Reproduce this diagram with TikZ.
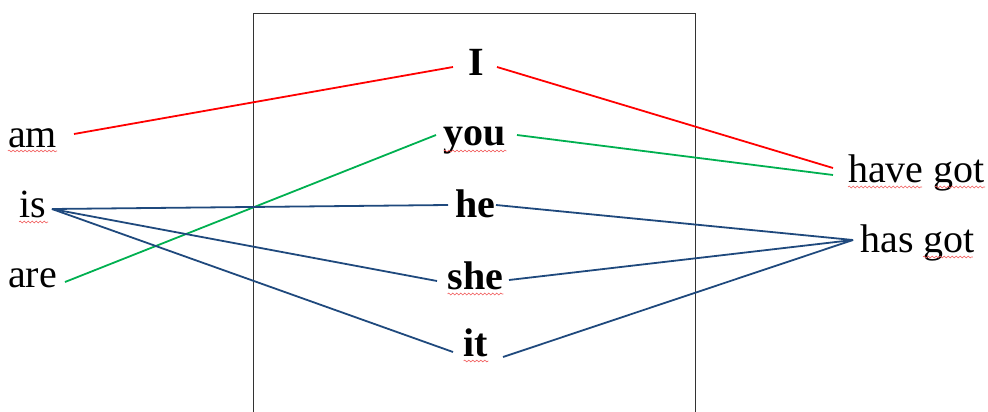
\documentclass[tikz,border=0pt]{standalone}
\usepackage{fontspec}
\setmainfont{Liberation Serif}
\usetikzlibrary{calc,decorations.pathmorphing}
\definecolor{lred}{RGB}{255,0,0}
\definecolor{lgreen}{RGB}{0,176,80}
\definecolor{lblue}{RGB}{31,73,125}
\definecolor{squig}{RGB}{240,90,90}
\tikzset{
  word/.style={inner sep=0pt, anchor=base, font=\fontsize{40}{48}\selectfont},
  bword/.style={word, font=\fontsize{40}{48}\selectfont\bfseries},
  link/.style={line width=1.8pt},
  spell/.style={squig, line width=0.6pt, decorate, decoration={snake, segment length=4pt, amplitude=0.9pt}},
  frame/.style={draw=black!80, line width=0.9pt}
}
\begin{document}
\begin{tikzpicture}[x=1pt,y=-1pt]
\useasboundingbox (0,0) rectangle (988,412);
\draw[frame] (253,412) -- (253,13) -- (695,13) -- (695,412);

\node[word] (am) at (32.5,147) {am};
\node[word] (is) at (32.5,217) {is};
\node[word] (are) at (32.5,287) {are};
\node[bword] (I) at (476,75) {I};
\node[bword] (you) at (475,145) {you};
\node[bword] (he) at (475,217) {he};
\node[bword] (she) at (475.5,289) {she};
\node[bword] (it) at (476,356) {it};
\node[word] (havegot) at (916.5,182) {have got};
\node[word] (hasgot) at (917.5,252) {has got};

% red
\draw[link, lred] ($(am.base)+(41.5,-13)$) -- ($(I.base)+(-23,-8)$);
\draw[link, lred] ($(I.base)+(21,-8)$) -- ($(havegot.base)+(-83.5,-14)$);
% green
\draw[link, lgreen] ($(are.base)+(32.5,-5)$) -- ($(you.base)+(-39,-10)$);
\draw[link, lgreen] ($(you.base)+(42,-10)$) -- ($(havegot.base)+(-83.5,-7)$);
% blue
\draw[link, lblue] ($(is.base)+(19.5,-8)$) -- ($(he.base)+(-27,-12)$);
\draw[link, lblue] ($(is.base)+(19.5,-8)$) -- ($(she.base)+(-38.5,-8)$);
\draw[link, lblue] ($(is.base)+(19.5,-8)$) -- ($(it.base)+(-23,-4)$);
\draw[link, lblue] ($(he.base)+(21,-12)$) -- ($(hasgot.base)+(-64.5,-12)$);
\draw[link, lblue] ($(she.base)+(33.5,-9)$) -- ($(hasgot.base)+(-64.5,-12)$);
\draw[link, lblue] ($(it.base)+(27,1)$) -- ($(hasgot.base)+(-64.5,-12)$);

% spelling marks
\draw[spell] ($(am.base west)+(0,4)$) -- ($(am.base east)+(0,4)$);
\draw[spell] ($(is.base west)+(0,5)$) -- ($(is.base east)+(2,5)$);
\draw[spell] ($(you.base west)+(0,6)$) -- ($(you.base east)+(0,6)$);
\draw[spell] ($(she.base west)+(0,5)$) -- ($(she.base east)+(0,5)$);
\draw[spell] ($(it.base west)+(0,5)$) -- ($(it.base east)+(0,5)$);
\draw[spell] ($(havegot.base west)+(0,5)$) -- ($(havegot.base west)+(74,5)$);
\draw[spell] ($(havegot.base east)+(-50,5)$) -- ($(havegot.base east)+(0,5)$);
\draw[spell] ($(hasgot.base east)+(-52,5)$) -- ($(hasgot.base east)+(-2,5)$);
\end{tikzpicture}
\end{document}
